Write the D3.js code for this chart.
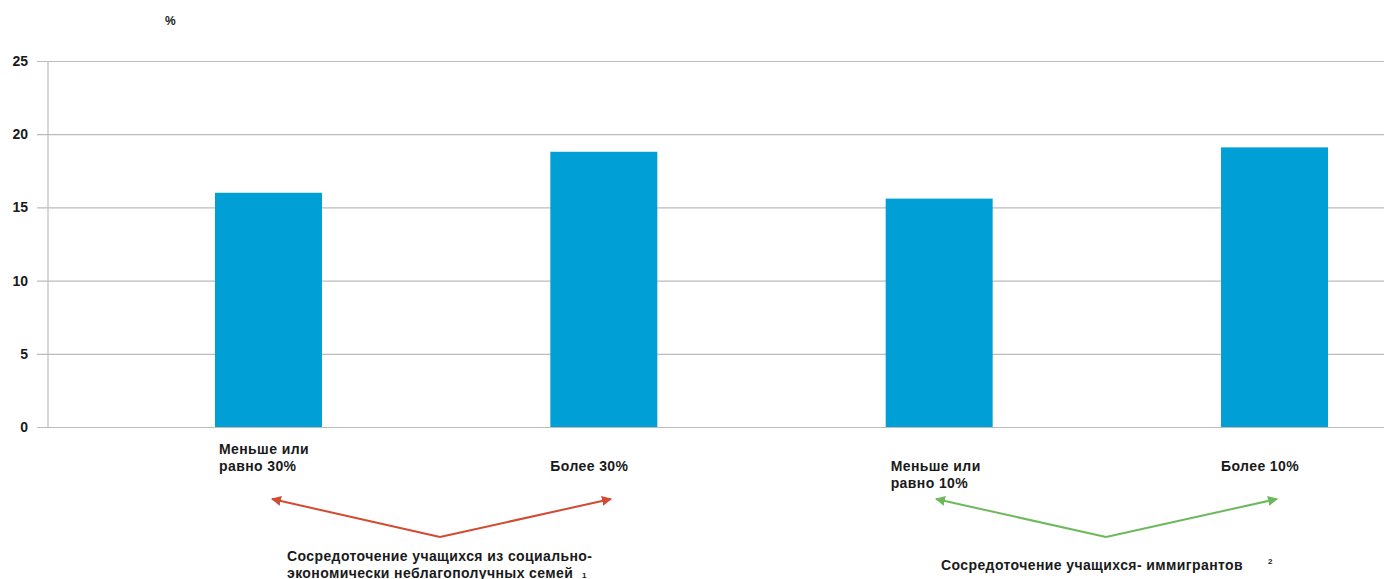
<!DOCTYPE html>
<html><head><meta charset="utf-8">
<script src="https://cdn.jsdelivr.net/npm/d3@7"></script>
<style>body{margin:0;background:#fff}svg{display:block;font-family:"Liberation Sans",Arial,sans-serif}</style>
</head><body><svg id="c" width="1384" height="579"></svg>
<script>
const categories = ["Меньше или равно 30%", "Более 30%", "Меньше или равно 10%", "Более 10%"];
const labelLines = [["Меньше или", "равно 30%"], ["Более 30%"], ["Меньше или", "равно 10%"], ["Более 10%"]];
const values = [16.0, 18.8, 15.6, 19.1];
const yTicks = [0, 5, 10, 15, 20, 25];
const unitLabel = "%";
const groupTitles = [["Сосредоточение учащихся из социально-", "экономически неблагополучных семей"], ["Сосредоточение учащихся- иммигрантов"]];
const groupNotes = ["1", "2"];
const groupColors = ["#d24a32", "#6cb95c"];
const groupMembers = [[0, 1], [2, 3]];

const svg = d3.select("#c");
const pLeft = 48, pRight = 1384, pTop = 61, pBottom = 427;
const FS = 14, LS = 0.4;
const y = d3.scaleLinear().domain([0, 25]).range([pBottom, pTop]);
const x = d3.scaleBand().domain(categories).range([215, 1328]).paddingInner(0.681).paddingOuter(0);

// grid / axis
const yAxis = d3.axisLeft(y).tickValues(yTicks).tickSize(-(pRight - pLeft)).tickPadding(10).tickFormat(d3.format("d"));
const ga = svg.append("g").attr("transform", `translate(${pLeft},0)`).call(yAxis);
ga.select(".domain").remove();
ga.selectAll(".tick line").attr("stroke", "#bcbcbc").attr("stroke-width", 1.2).attr("x1", -11);
ga.selectAll(".tick text").attr("fill", "#1a1a1a").attr("font-size", FS).attr("font-weight", "bold")
  .attr("x", -20).attr("font-family", '"Liberation Sans",Arial,sans-serif');
svg.append("line").attr("x1", pLeft).attr("x2", pLeft).attr("y1", pTop).attr("y2", pBottom).attr("stroke", "#bcbcbc").attr("stroke-width", 1.2);

svg.append("text").attr("x", 165).attr("y", 25).attr("font-size", 12).attr("font-weight", "bold").attr("fill", "#1a1a1a").text(unitLabel);

// bars
svg.selectAll("rect.bar").data(values).join("rect").attr("class", "bar")
  .attr("x", (d, i) => x(categories[i])).attr("width", x.bandwidth())
  .attr("y", d => y(d)).attr("height", d => y(0) - y(d)).attr("fill", "#009fd5");

// x labels
const labelDx = [4, 0, 5, 0];
labelLines.forEach((lines, i) => {
  const t = svg.append("text").attr("font-size", FS).attr("font-weight", "bold").attr("fill", "#1a1a1a").attr("letter-spacing", LS);
  const n = lines.length;
  const y0 = i === 2 ? 471 : (n === 2 ? 454 : 471);
  lines.forEach((l, j) => t.append("tspan").attr("x", x(categories[i]) + labelDx[i]).attr("y", y0 + j * 17).text(l));
});

// arrows
const defs = svg.append("defs");
groupColors.forEach((c, g) => {
  defs.append("marker").attr("id", "ah" + g).attr("viewBox", "0 0 10 10").attr("refX", 9).attr("refY", 5)
    .attr("markerWidth", 5).attr("markerHeight", 5).attr("orient", "auto-start-reverse").attr("markerUnits", "strokeWidth")
    .append("path").attr("d", "M0,0 L10,5 L0,10 z").attr("fill", c);
});
const vertexX = [440, 1106];
const arrowEnds = [[272, 611], [936, 1277]];
groupMembers.forEach((m, g) => {
  const vx = vertexX[g];
  arrowEnds[g].forEach(ex => {
    svg.append("line").attr("x1", vx).attr("y1", 537).attr("x2", ex).attr("y2", 499)
      .attr("stroke", groupColors[g]).attr("stroke-width", 2).attr("marker-end", `url(#ah${g})`);
  });
});

// group titles
const titlePos = [[287, 561], [941, 570]];
groupTitles.forEach((lines, g) => {
  const t = svg.append("text").attr("font-size", FS).attr("font-weight", "bold").attr("fill", "#1a1a1a").attr("letter-spacing", LS);
  lines.forEach((l, j) => t.append("tspan").attr("x", titlePos[g][0]).attr("y", titlePos[g][1] + j * 17).text(l));
});
svg.append("text").attr("x", 582).attr("y", 578).attr("font-size", 8).attr("font-weight", "bold").attr("fill", "#1a1a1a").text(groupNotes[0]);
svg.append("text").attr("x", 1268).attr("y", 564).attr("font-size", 8).attr("font-weight", "bold").attr("fill", "#1a1a1a").text(groupNotes[1]);
</script></body></html>
